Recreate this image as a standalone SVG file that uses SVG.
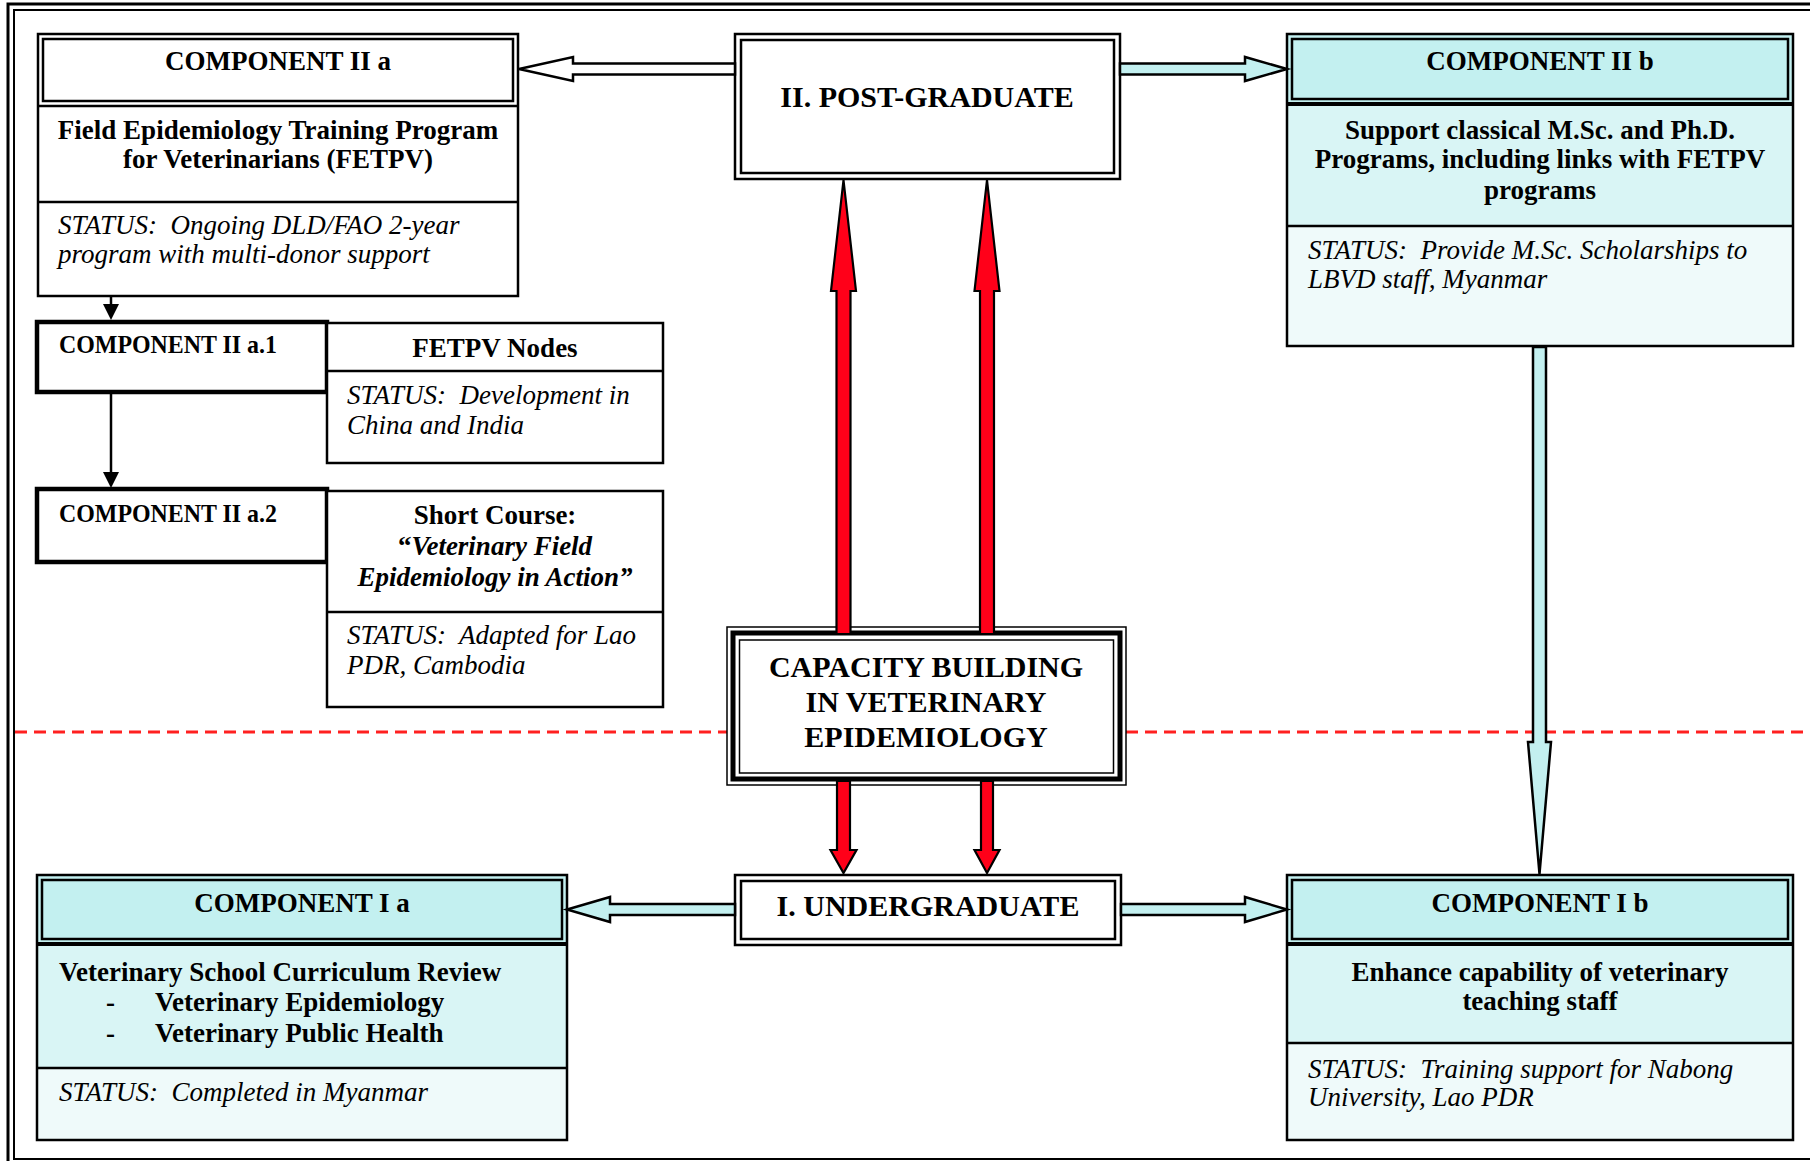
<svg xmlns="http://www.w3.org/2000/svg" width="1810" height="1161" viewBox="0 0 1810 1161">
<style>
.t{font-family:"Liberation Serif","Times New Roman",serif;font-size:27px;fill:#000}
.b{font-weight:bold}
.i{font-style:italic}
.c{text-anchor:middle}
.big{font-size:30px}
.sm{font-size:25.5px}
.ln{fill:none;stroke:#000;stroke-width:2.5}
.w{fill:#fff;stroke:#000;stroke-width:2.5}
.hd{fill:#c3f0f0}
.md{fill:#d9f5f5}
.st{fill:#effafa}
.red{fill:#ff0019;stroke:#000;stroke-width:2.2;stroke-linejoin:miter}
.cy{fill:#c3f0f0;stroke:#000;stroke-width:2.5}
.wa{fill:#fff;stroke:#000;stroke-width:2.5}
</style>
<rect width="1810" height="1161" fill="#fff"/>
<g id="frame">
<rect x="8" y="4" width="1810" height="1165" fill="none" stroke="#000" stroke-width="3"/>
<rect x="14" y="10" width="1800" height="1149" fill="none" stroke="#000" stroke-width="2"/>
</g>
<g id="divider">
<line x1="15" y1="732" x2="727" y2="732" stroke="#ff2020" stroke-width="3" stroke-dasharray="12 7"/>
<line x1="1126" y1="732" x2="1810" y2="732" stroke="#ff2020" stroke-width="3" stroke-dasharray="12 7"/>
</g>

<g id="comp-IIa">
<rect class="w" x="38" y="34" width="480" height="262"/>
<rect class="ln" x="43" y="39" width="470" height="62"/>
<line class="ln" x1="38" y1="106" x2="518" y2="106"/>
<line class="ln" x1="38" y1="202" x2="518" y2="202"/>
<text class="t b c" x="278" y="70">COMPONENT II a</text>
<text class="t b c" x="278" y="139">Field Epidemiology Training Program</text>
<text class="t b c" x="278" y="168">for Veterinarians (FETPV)</text>
<text class="t i" x="58" y="234">STATUS:&#160; Ongoing DLD/FAO 2-year</text>
<text class="t i" x="58" y="263">program with multi-donor support</text>
</g>

<g id="post-graduate">
<rect class="w" x="735" y="34" width="385" height="145"/>
<rect class="ln" x="741" y="40" width="373" height="133"/>
<text class="t b c big" x="927" y="107">II. POST-GRADUATE</text>
</g>

<g id="comp-IIb">
<rect x="1287" y="34" width="506" height="72" class="hd"/>
<rect x="1287" y="106" width="506" height="120" class="md"/>
<rect x="1287" y="226" width="506" height="120" class="st"/>
<rect class="ln" x="1287" y="34" width="506" height="312"/>
<rect class="ln" x="1292" y="39" width="496" height="60"/>
<line x1="1287" y1="104" x2="1793" y2="104" stroke="#000" stroke-width="4"/>
<line class="ln" x1="1287" y1="226" x2="1793" y2="226"/>
<text class="t b c" x="1540" y="70">COMPONENT II b</text>
<text class="t b c" x="1540" y="139">Support classical M.Sc. and Ph.D.</text>
<text class="t b c" x="1540" y="168">Programs, including links with FETPV</text>
<text class="t b c" x="1540" y="199">programs</text>
<text class="t i" x="1308" y="259">STATUS:&#160; Provide M.Sc. Scholarships to</text>
<text class="t i" x="1308" y="288">LBVD staff, Myanmar</text>
</g>

<g id="comp-IIa1">
<rect x="37" y="322" width="290" height="70" fill="#fff" stroke="#000" stroke-width="4.5"/>
<text class="t b sm" x="59" y="353" textLength="218" lengthAdjust="spacingAndGlyphs">COMPONENT II a.1</text>
</g>

<g id="fetpv-nodes">
<rect class="w" x="327" y="323" width="336" height="140"/>
<line class="ln" x1="327" y1="371" x2="663" y2="371"/>
<text class="t b c" x="495" y="357">FETPV Nodes</text>
<text class="t i" x="347" y="404">STATUS:&#160; Development in</text>
<text class="t i" x="347" y="434">China and India</text>
</g>

<g id="comp-IIa2">
<rect x="37" y="489" width="290" height="73" fill="#fff" stroke="#000" stroke-width="4.5"/>
<text class="t b sm" x="59" y="522" textLength="218" lengthAdjust="spacingAndGlyphs">COMPONENT II a.2</text>
</g>

<g id="short-course">
<rect class="w" x="327" y="491" width="336" height="216"/>
<line class="ln" x1="327" y1="612" x2="663" y2="612"/>
<text class="t b c" x="495" y="524">Short Course:</text>
<text class="t b c" x="495" y="555">“<tspan class="i">Veterinary Field</tspan></text>
<text class="t b i c" x="495" y="586">Epidemiology in Action”</text>
<text class="t i" x="347" y="644">STATUS:&#160; Adapted for Lao</text>
<text class="t i" x="347" y="674">PDR, Cambodia</text>
</g>

<g id="capacity-building">
<rect x="727" y="627" width="399" height="158" fill="#fff" stroke="#000" stroke-width="1.5"/>
<rect x="733" y="633" width="387" height="146" fill="none" stroke="#000" stroke-width="5"/>
<rect x="739.5" y="640" width="374" height="133" fill="none" stroke="#000" stroke-width="1.5"/>
<text class="t b c big" x="926" y="677">CAPACITY BUILDING</text>
<text class="t b c big" x="926" y="712">IN VETERINARY</text>
<text class="t b c big" x="926" y="747">EPIDEMIOLOGY</text>
</g>

<g id="undergraduate">
<rect class="w" x="735" y="875" width="386" height="70"/>
<rect class="ln" x="741" y="881" width="374" height="58"/>
<text class="t b c big" x="928" y="916">I. UNDERGRADUATE</text>
</g>

<g id="comp-Ia">
<rect x="37" y="875" width="530" height="70" class="hd"/>
<rect x="37" y="945" width="530" height="123" class="md"/>
<rect x="37" y="1068" width="530" height="72" class="st"/>
<rect class="ln" x="37" y="875" width="530" height="265"/>
<rect class="ln" x="42" y="880" width="520" height="59"/>
<line x1="37" y1="944" x2="567" y2="944" stroke="#000" stroke-width="4"/>
<line class="ln" x1="37" y1="1068" x2="567" y2="1068"/>
<text class="t b c" x="302" y="912">COMPONENT I a</text>
<text class="t b" x="59" y="981">Veterinary School Curriculum Review</text>
<text class="t b" x="106" y="1011">-</text>
<text class="t b" x="155" y="1011">Veterinary Epidemiology</text>
<text class="t b" x="106" y="1042">-</text>
<text class="t b" x="155" y="1042">Veterinary Public Health</text>
<text class="t i" x="59" y="1101">STATUS:&#160; Completed in Myanmar</text>
</g>

<g id="comp-Ib">
<rect x="1287" y="875" width="506" height="70" class="hd"/>
<rect x="1287" y="945" width="506" height="98" class="md"/>
<rect x="1287" y="1043" width="506" height="97" class="st"/>
<rect class="ln" x="1287" y="875" width="506" height="265"/>
<rect class="ln" x="1292" y="880" width="496" height="59"/>
<line x1="1287" y1="944" x2="1793" y2="944" stroke="#000" stroke-width="4"/>
<line class="ln" x1="1287" y1="1043" x2="1793" y2="1043"/>
<text class="t b c" x="1540" y="912">COMPONENT I b</text>
<text class="t b c" x="1540" y="981">Enhance capability of veterinary</text>
<text class="t b c" x="1540" y="1010">teaching staff</text>
<text class="t i" x="1308" y="1078">STATUS:&#160; Training support for Nabong</text>
<text class="t i" x="1308" y="1106">University, Lao PDR</text>
</g>

<g id="connectors">
<polygon class="wa" points="735,63.5 573,63.5 573,57 519,69 573,81 573,74.5 735,74.5"/>
<polygon class="cy" points="1120,63.5 1245,63.5 1245,57 1287,69 1245,81 1245,74.5 1120,74.5"/>
<polygon class="cy" points="735,904 610,904 610,897 567,909.5 610,922 610,915 735,915"/>
<polygon class="cy" points="1121,904 1245,904 1245,897 1287,909.5 1245,922 1245,915 1121,915"/>
<polygon class="red" points="836.5,634 836.5,291 831,291 843.5,180 856,291 850.5,291 850.5,634"/>
<polygon class="red" points="980,634 980,291 974.5,291 987,180 999.5,291 994,291 994,634"/>
<polygon class="red" points="837,781 837,850 830.5,850 843.5,873 856.5,850 850,850 850,781"/>
<polygon class="red" points="981,781 981,850 974.5,850 987,873 999.5,850 993,850 993,781"/>
<polygon class="cy" points="1533,347 1533,742 1528,742 1539.5,874 1551,742 1546,742 1546,347"/>
<line class="ln" x1="111" y1="296" x2="111" y2="305"/>
<polygon points="103,304 119,304 111,320" fill="#000"/>
<line class="ln" x1="111" y1="392" x2="111" y2="473"/>
<polygon points="103,472 119,472 111,488" fill="#000"/>
</g>
</svg>
